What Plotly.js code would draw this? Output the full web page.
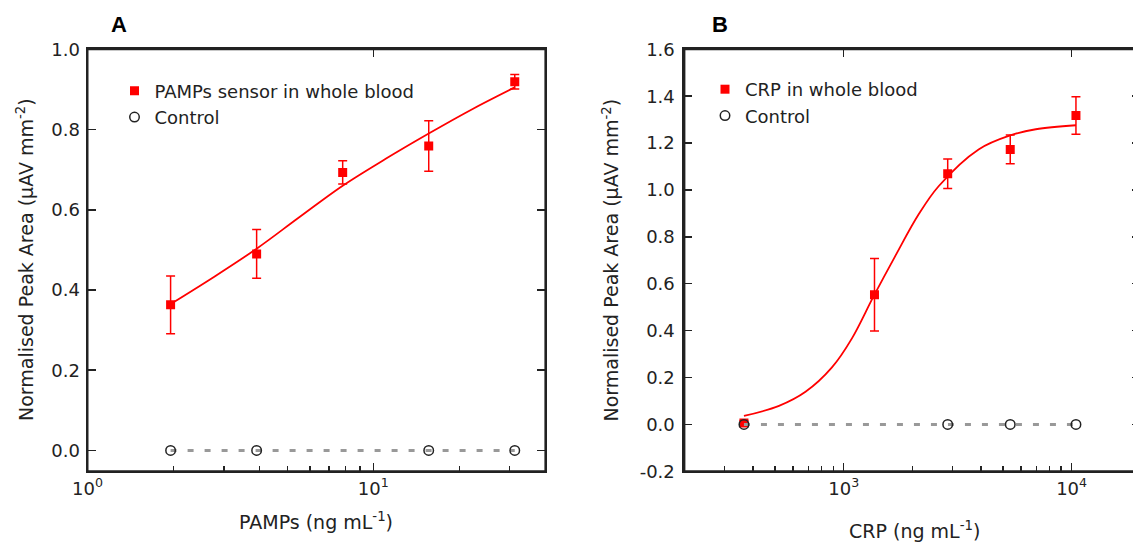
<!DOCTYPE html>
<html><head><meta charset="utf-8">
<script src="https://cdn.plot.ly/plotly-3.0.1.min.js"></script>
<style>html,body{margin:0;padding:0;overflow:hidden;background:#fff}</style>
</head><body><div id="chart" style="width:1142px;height:544px"></div>
<script>
// ---- Panel A data ----
const pampsConc = [1.953, 3.906, 7.813, 15.625, 31.25];
const pampsSignal = [0.363, 0.490, 0.693, 0.759, 0.919];
const pampsErr = [0.072, 0.061, 0.029, 0.063, 0.018];
const pampsCtrlConc = [1.953, 3.906, 15.625, 31.25];
const pampsCtrlSignal = [0, 0, 0, 0];
const pampsFitConc = [1.953, 2.76, 3.906, 5.52, 7.813, 11.05, 15.625, 22.1, 31.25];
const pampsFitSignal = [0.365, 0.432, 0.503, 0.582, 0.660, 0.727, 0.790, 0.850, 0.905];
const pampsTickVals = [1, 10];
const pampsTickText = ['10<sup>0</sup>', '10<sup>1</sup>'];
const pampsTopTicks = [10];
const pampsMinorVals = [2, 3, 4, 5, 6, 7, 8, 9, 20, 30];
const yTickValsA = [0, 0.2, 0.4, 0.6, 0.8, 1.0];
const yTickTextA = ['0.0', '0.2', '0.4', '0.6', '0.8', '1.0'];

// ---- Panel B data ----
const crpConc = [365, 1365, 2860, 5380, 10450];
const crpSignal = [0.006, 0.553, 1.069, 1.173, 1.318];
const crpErr = [0.010, 0.155, 0.063, 0.061, 0.080];
const crpCtrlConc = [365, 2860, 5380, 10450];
const crpCtrlSignal = [0, 0, 0, 0];
const crpFitConc = [365, 520, 680, 888, 1087, 1352, 1683, 2133, 2609, 3908, 5382, 6968, 10450];
const crpFitSignal = [0.036, 0.079, 0.139, 0.243, 0.367, 0.546, 0.718, 0.896, 1.016, 1.173, 1.233, 1.259, 1.276];
const crpTickVals = [1000, 10000];
const crpTickText = ['10<sup>3</sup>', '10<sup>4</sup>'];
const crpTopTicks = [1000, 10000];
const crpMinorVals = [300, 400, 500, 600, 700, 800, 900, 2000, 3000, 4000, 5000, 6000, 7000, 8000, 9000];
const yTickValsB = [-0.2, 0, 0.2, 0.4, 0.6, 0.8, 1.0, 1.2, 1.4, 1.6];
const yTickTextB = ['-0.2', '0.0', '0.2', '0.4', '0.6', '0.8', '1.0', '1.2', '1.4', '1.6'];

const W = 1142, H = 544;
const FONT = 'DejaVu Sans, Verdana, sans-serif';
const INK = '#222';
const RED = '#ff0000';
const px = v => v / W, py = v => 1 - v / H;

const base = {
  showline: true, linewidth: 2, linecolor: INK,
  ticks: 'inside', tickcolor: INK, tickwidth: 1.5, ticklen: 8,
  showgrid: false, zeroline: false,
  tickfont: {family: FONT, size: 18, color: INK}
};
const yDom = [1 - 471.3 / H, 1 - 49.3 / H];
const xDomA = [px(87.5), px(545.4)];
const xDomB = [px(684.4), px(1140.2)];
const rangeA = [0, Math.log10(40)];
const rangeB = [Math.log10(200), Math.log10(20000)];

function panel(xa, ya, leg, fx, fy, ccx, ccy, dx, dy, err, name) {
  return [
    {x: fx, y: fy, xaxis: xa, yaxis: ya, mode: 'lines', showlegend: false,
     line: {color: RED, width: 1.8, shape: 'spline'}, hoverinfo: 'skip'},
    {x: dx, y: dy, xaxis: xa, yaxis: ya, mode: 'markers', name: name, legend: leg,
     marker: {symbol: 'square', size: 9, color: RED},
     error_y: {type: 'data', array: err, visible: true, color: RED, thickness: 1.5, width: 4.5}},
    {x: ccx, y: ccy, xaxis: xa, yaxis: ya, mode: 'lines', showlegend: false,
     line: {color: '#999999', width: 3, dash: '6px,11px'}, hoverinfo: 'skip'},
    {x: ccx, y: ccy, xaxis: xa, yaxis: ya, mode: 'markers', name: 'Control', legend: leg,
     marker: {symbol: 'circle-open', size: 9.5, color: INK, line: {width: 1.5, color: INK}}}
  ];
}

const data = [
  ...panel('x', 'y', 'legend', pampsFitConc, pampsFitSignal,
           pampsCtrlConc, pampsCtrlSignal, pampsConc, pampsSignal, pampsErr,
           'PAMPs sensor in whole blood'),
  ...panel('x2', 'y2', 'legend2', crpFitConc, crpFitSignal,
           crpCtrlConc, crpCtrlSignal, crpConc, crpSignal, crpErr,
           'CRP in whole blood'),
  {x: [], y: [], xaxis: 'x3', yaxis: 'y3', showlegend: false, hoverinfo: 'skip'},
  {x: [], y: [], xaxis: 'x4', yaxis: 'y4', showlegend: false, hoverinfo: 'skip'}
];

const legendBase = {
  xanchor: 'left', yanchor: 'top', bgcolor: 'rgba(0,0,0,0)', borderwidth: 0,
  font: {family: FONT, size: 18, color: INK}, itemwidth: 30, tracegroupgap: 0
};

const annFont = {family: FONT, size: 19, color: INK};
function ann(text, x, y, extra) {
  return Object.assign({text: text, x: px(x), y: py(y), xref: 'paper', yref: 'paper',
    xanchor: 'center', yanchor: 'middle', showarrow: false, font: annFont}, extra || {});
}
const panelFont = {family: 'Liberation Sans, Arial, sans-serif', size: 22, color: '#000'};
const topAxis = {showline: false, ticks: 'inside', tickcolor: INK, tickwidth: 1.5, ticklen: 8,
  showgrid: false, zeroline: false, showticklabels: false, side: 'top', type: 'log', tickmode: 'array'};
const hiddenY = {visible: false, domain: yDom, range: [0, 1], showgrid: false, zeroline: false};
function frame(xa, ya) {
  return {type: 'rect', xref: xa + ' domain', yref: ya + ' domain', x0: 0, x1: 1, y0: 0, y1: 1,
    line: {color: INK, width: 2}, fillcolor: 'rgba(0,0,0,0)', layer: 'above'};
}

const layout = {
  width: W, height: H, margin: {l: 0, r: 0, t: 0, b: 0, autoexpand: false},
  paper_bgcolor: '#fff', plot_bgcolor: 'rgba(0,0,0,0)',
  showlegend: true,
  xaxis: Object.assign({}, base, {type: 'log', domain: xDomA, anchor: 'y', mirror: true,
    range: rangeA, tickmode: 'array', tickvals: pampsTickVals, ticktext: pampsTickText,
    minor: {ticks: 'inside', ticklen: 5, tickwidth: 1.5, tickcolor: INK, tickmode: 'array', tickvals: pampsMinorVals, showgrid: false}}),
  yaxis: Object.assign({}, base, {domain: yDom, anchor: 'x', range: [-0.052, 1.0], ticklabelstandoff: 2,
    tickmode: 'array', tickvals: yTickValsA, ticktext: yTickTextA, mirror: 'ticks'}),
  xaxis2: Object.assign({}, base, {type: 'log', domain: xDomB, anchor: 'y2', mirror: true,
    range: rangeB, tickmode: 'array', tickvals: crpTickVals, ticktext: crpTickText,
    minor: {ticks: 'inside', ticklen: 5, tickwidth: 1.5, tickcolor: INK, tickmode: 'array', tickvals: crpMinorVals, showgrid: false}}),
  yaxis2: Object.assign({}, base, {domain: yDom, anchor: 'x2', range: [-0.2, 1.6], ticklabelstandoff: 4,
    tickmode: 'array', tickvals: yTickValsB, ticktext: yTickTextB, mirror: 'ticks'}),
  xaxis3: Object.assign({}, topAxis, {domain: xDomA, anchor: 'y3', range: rangeA, tickvals: pampsTopTicks}),
  yaxis3: Object.assign({}, hiddenY, {anchor: 'x3'}),
  xaxis4: Object.assign({}, topAxis, {domain: xDomB, anchor: 'y4', range: rangeB, tickvals: crpTopTicks}),
  yaxis4: Object.assign({}, hiddenY, {anchor: 'x4'}),
  legend: Object.assign({}, legendBase, {x: px(114.5), y: py(72.5)}),
  legend2: Object.assign({}, legendBase, {x: px(705), y: py(71)}),
  shapes: [frame('x', 'y'), frame('x2', 'y2')],
  annotations: [
    ann('<b>A</b>', 119, 25, {font: panelFont}),
    ann('<b>B</b>', 720, 25, {font: panelFont}),
    ann('Normalised Peak Area (µAV mm<sup>-2</sup>)', 25, 260, {textangle: -90}),
    ann('Normalised Peak Area (µAV mm<sup>-2</sup>)', 610.5, 260, {textangle: -90}),
    ann('PAMPs (ng mL<sup>-1</sup>)', 316, 521),
    ann('CRP (ng mL<sup>-1</sup>)', 914, 530)
  ]
};

Plotly.newPlot('chart', data, layout, {displayModeBar: false, staticPlot: true});
</script></body></html>
